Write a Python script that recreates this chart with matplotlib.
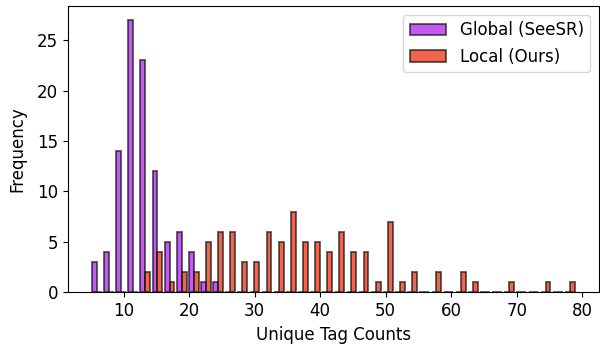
import numpy as np
import matplotlib
matplotlib.use("Agg")
import matplotlib.pyplot as plt

# Histogram bins (40 bins spanning the combined data range)
bin_min = 5
bin_max = 79
n_bins = 40

# Counts per bin
global_counts = [3, 4, 14, 27, 23, 12, 5, 6, 4, 1, 1, 0, 0, 0, 0, 0, 0, 0, 0, 0,
                 0, 0, 0, 0, 0, 0, 0, 0, 0, 0, 0, 0, 0, 0, 0, 0, 0, 0, 0, 0]
local_counts = [0, 0, 0, 0, 2, 4, 1, 2, 2, 5, 6, 6, 3, 3, 6, 5, 8, 5, 5, 4,
                6, 4, 4, 1, 7, 1, 2, 0, 2, 0, 2, 1, 0, 0, 1, 0, 0, 1, 0, 1]
labels = ["Global (SeeSR)", "Local (Ours)"]
colors = ["#ac12f0", "#ec2405"]

edges = np.linspace(bin_min, bin_max, n_bins + 1)
centers = (edges[:-1] + edges[1:]) / 2

fig, ax = plt.subplots(figsize=(6.0, 3.46), dpi=100)
fig.subplots_adjust(left=0.113, right=0.998, top=0.982, bottom=0.155)

ax.hist([centers, centers], bins=edges,
        weights=[global_counts, local_counts],
        color=colors, label=labels,
        edgecolor="#111111", linewidth=1.3, alpha=0.7)

ax.set_xlabel("Unique Tag Counts", fontsize=12)
ax.set_ylabel("Frequency", fontsize=12, labelpad=7.5)
ax.tick_params(labelsize=12)
ax.legend(loc="upper right", fontsize=12, handlelength=2.2)

fig.savefig("out.png", dpi=100)
